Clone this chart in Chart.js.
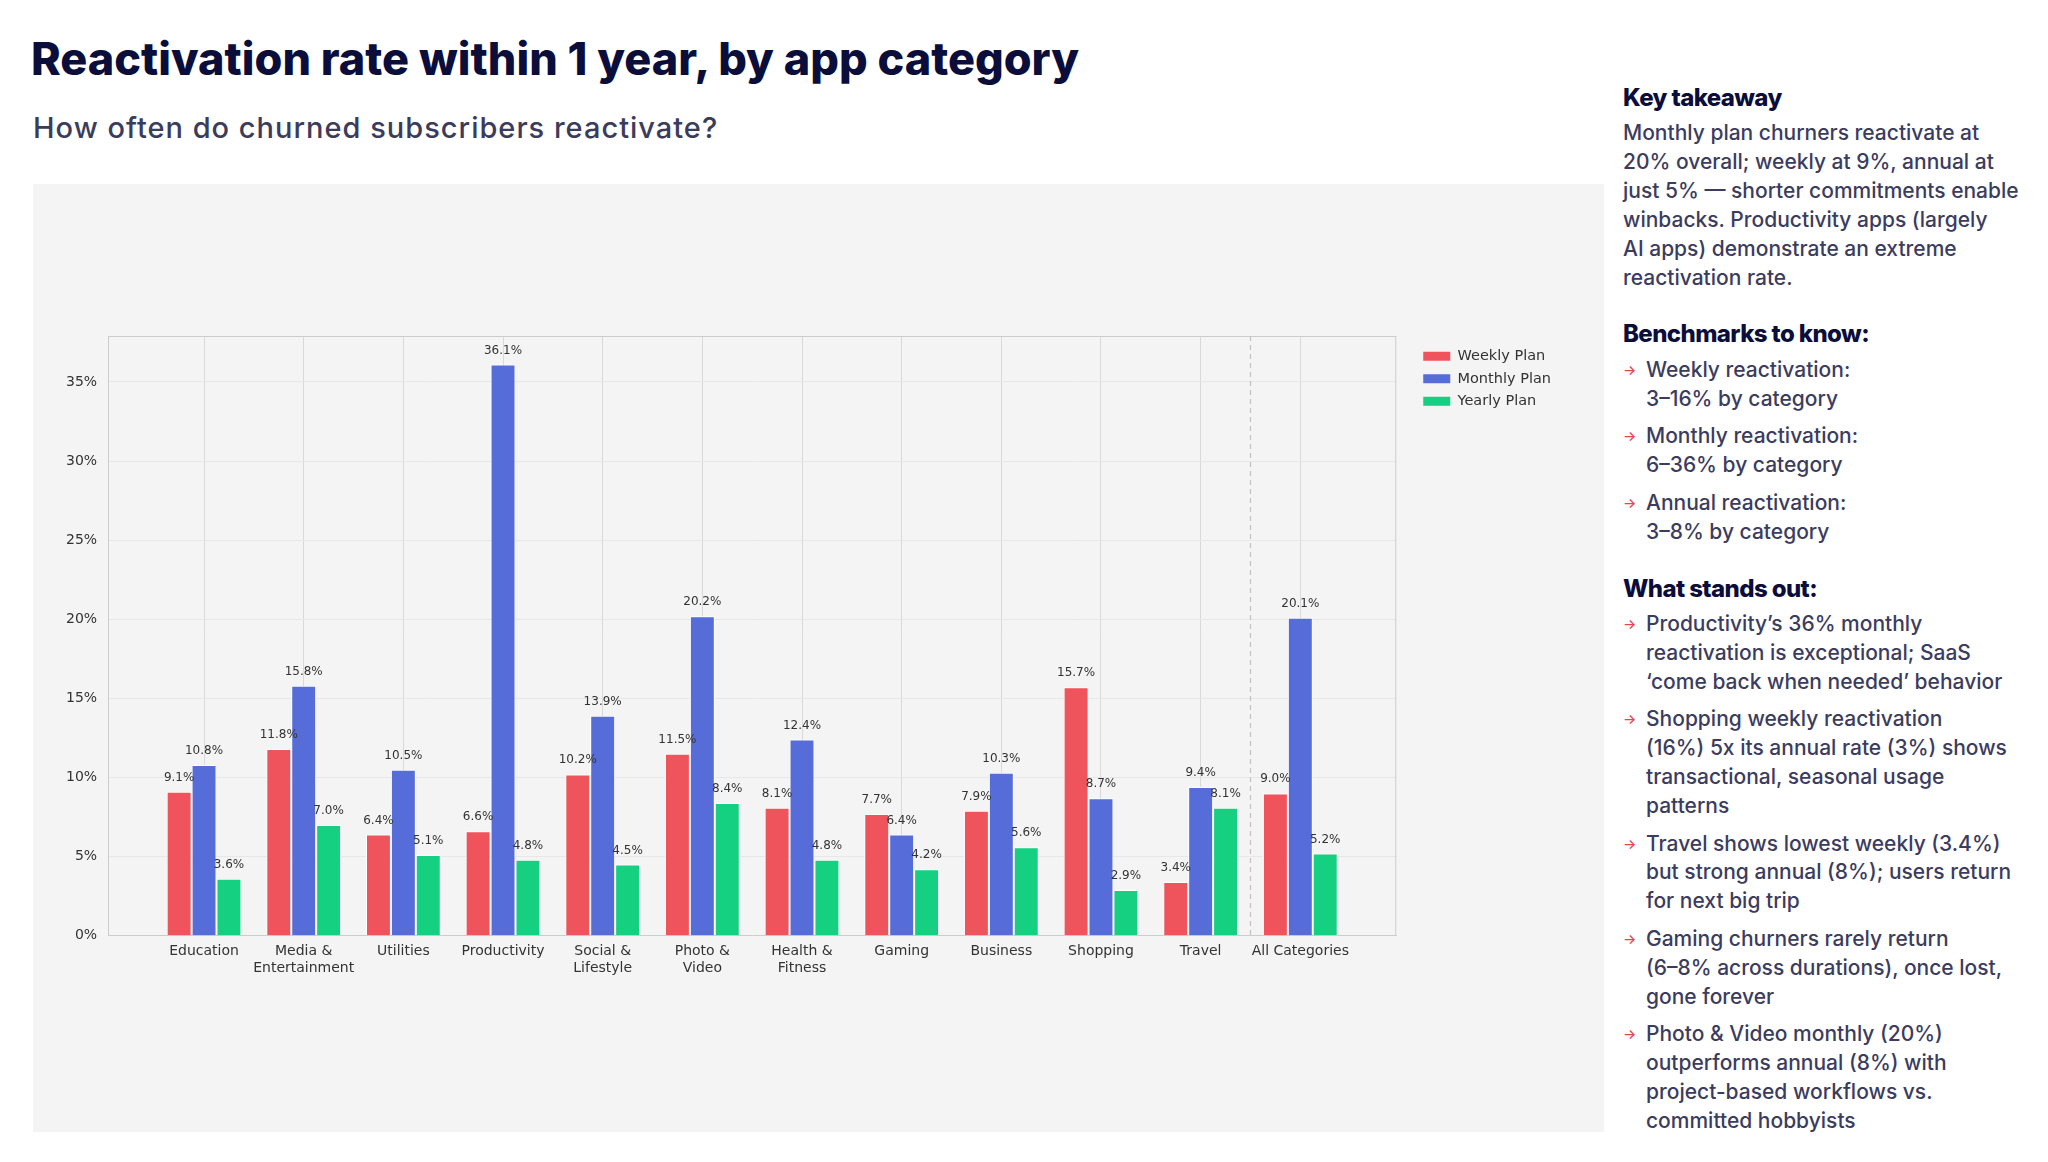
<!DOCTYPE html>
<html>
<head>
<meta charset="utf-8">
<script src="https://cdn.jsdelivr.net/npm/chart.js@4.4.1/dist/chart.umd.min.js"></script>
<style>
  html, body { margin: 0; padding: 0; background: #fff; }
  body { width: 2048px; height: 1162px; position: relative; overflow: hidden; font-family: Inter, "Noto Sans", sans-serif; }
  #title { position: absolute; left: 31px; top: 31px; font-size: 45px; font-weight: 800; letter-spacing: 0px; color: #0b0d3b; white-space: nowrap; line-height: 56px; }
  #subtitle { position: absolute; left: 33px; top: 110px; font-size: 29px; font-weight: 500; letter-spacing: 1px; color: #3b3c5c; line-height: 36px; white-space: nowrap; }
  #panel { position: absolute; left: 33px; top: 184px; width: 1571px; height: 948px; background: #f4f4f4; }
  #side { position: absolute; left: 1623px; top: 0; width: 420px; color: #3b3c5e; }
  .h { position: absolute; left: 0; font-size: 24px; font-weight: 800; color: #0b0d3b; letter-spacing: -0.6px; line-height: 32px; white-space: nowrap; }
  .body { position: absolute; left: 0; font-size: 21px; font-weight: 500; line-height: 28.9px; white-space: nowrap; }
  .list { position: absolute; left: 0; margin: 0; padding: 0; list-style: none; font-size: 21px; font-weight: 500; line-height: 28.9px; white-space: nowrap; }
  .list li { position: relative; padding-left: 23px; margin-bottom: 8.6px; }
  .list li::before { content: "\2192"; position: absolute; left: 0; top: 0; color: #e8424f; font-size: 14px; }
</style>
</head>
<body>
<div id="title">Reactivation rate within 1 year, by app category</div>
<div id="subtitle">How often do churned subscribers reactivate?</div>
<div id="panel"><canvas id="chart" width="1571" height="948"></canvas></div>

<div id="side">
  <div class="h" style="top:82px">Key takeaway</div>
  <div class="body" style="top:119px">Monthly plan churners reactivate at<br>20% overall; weekly at 9%, annual at<br>just 5% — shorter commitments enable<br>winbacks. Productivity apps (largely<br>AI apps) demonstrate an extreme<br>reactivation rate.</div>

  <div class="h" style="top:318px">Benchmarks to know:</div>
  <ul class="list" style="top:356px">
    <li>Weekly reactivation:<br>3–16% by category</li>
    <li>Monthly reactivation:<br>6–36% by category</li>
    <li>Annual reactivation:<br>3–8% by category</li>
  </ul>

  <div class="h" style="top:573px">What stands out:</div>
  <ul class="list" style="top:610px">
    <li>Productivity’s 36% monthly<br>reactivation is exceptional; SaaS<br>‘come back when needed’ behavior</li>
    <li>Shopping weekly reactivation<br>(16%) 5x its annual rate (3%) shows<br>transactional, seasonal usage<br>patterns</li>
    <li>Travel shows lowest weekly (3.4%)<br>but strong annual (8%); users return<br>for next big trip</li>
    <li>Gaming churners rarely return<br>(6–8% across durations), once lost,<br>gone forever</li>
    <li>Photo &amp; Video monthly (20%)<br>outperforms annual (8%) with<br>project-based workflows vs.<br>committed hobbyists</li>
  </ul>
</div>

<script>
const categories = [
  "Education", "Media & Entertainment", "Utilities", "Productivity",
  "Social & Lifestyle", "Photo & Video", "Health & Fitness", "Gaming",
  "Business", "Shopping", "Travel", "All Categories",
];
const categoryLines = [
  ["Education"], ["Media &", "Entertainment"], ["Utilities"], ["Productivity"],
  ["Social &", "Lifestyle"], ["Photo &", "Video"], ["Health &", "Fitness"], ["Gaming"],
  ["Business"], ["Shopping"], ["Travel"], ["All Categories"],
];
const weeklyPlan = [9.1, 11.8, 6.4, 6.6, 10.2, 11.5, 8.1, 7.7, 7.9, 15.7, 3.4, 9.0];
const monthlyPlan = [10.8, 15.8, 10.5, 36.1, 13.9, 20.2, 12.4, 6.4, 10.3, 8.7, 9.4, 20.1];
const yearlyPlan = [3.6, 7.0, 5.1, 4.8, 4.5, 8.4, 4.8, 4.2, 5.6, 2.9, 8.1, 5.2];
const yTicks = [0, 5, 10, 15, 20, 25, 30, 35];
const separatorAt = 10.5; // between Travel and All Categories

Chart.defaults.font.family = "'DejaVu Sans', sans-serif";
Chart.defaults.color = "#333";

function toPoints(values) {
  return values.map((v, i) => ({ x: i, y: v }));
}

// frame on top/right + dashed separator before "All Categories"
const plotFrame = {
  id: "plotFrame",
  beforeDatasetsDraw(chart) {
    const { ctx, chartArea: a, scales } = chart;
    ctx.save();
    ctx.strokeStyle = "#cccccc";
    ctx.lineWidth = 1;
    ctx.beginPath();
    ctx.moveTo(a.left, a.top + 0.5);
    ctx.lineTo(a.right, a.top + 0.5);
    ctx.moveTo(a.right - 0.5, a.top);
    ctx.lineTo(a.right - 0.5, a.bottom);
    ctx.stroke();
    const sx = scales.x.getPixelForValue(separatorAt);
    ctx.setLineDash([5, 4]);
    ctx.strokeStyle = "#c2c2c2";
    ctx.lineWidth = 1.2;
    ctx.beginPath();
    ctx.moveTo(sx, a.top);
    ctx.lineTo(sx, a.bottom);
    ctx.stroke();
    ctx.restore();
  },
};

const valueLabels = {
  id: "valueLabels",
  afterDatasetsDraw(chart) {
    const ctx = chart.ctx;
    ctx.save();
    ctx.font = "12px 'DejaVu Sans'";
    ctx.fillStyle = "#333";
    ctx.textAlign = "center";
    ctx.textBaseline = "alphabetic";
    chart.data.datasets.forEach((ds, di) => {
      chart.getDatasetMeta(di).data.forEach((bar, i) => {
        ctx.fillText(ds.data[i].y.toFixed(1) + "%", bar.x, bar.y - 11);
      });
    });
    ctx.restore();
  },
};

const barStyle = {
  borderColor: "#ffffff",
  borderWidth: 1,
  categoryPercentage: 0.75,
  barPercentage: 1,
};

new Chart(document.getElementById("chart"), {
  type: "bar",
  data: {
    datasets: [
      { label: "Weekly Plan", data: toPoints(weeklyPlan), backgroundColor: "#ef535b", ...barStyle },
      { label: "Monthly Plan", data: toPoints(monthlyPlan), backgroundColor: "#566cd8", ...barStyle },
      { label: "Yearly Plan", data: toPoints(yearlyPlan), backgroundColor: "#14d080", ...barStyle },
    ],
  },
  plugins: [plotFrame, valueLabels],
  options: {
    responsive: false,
    animation: false,
    layout: { padding: { left: 22, top: 152, right: 43, bottom: 148 } },
    plugins: {
      tooltip: { enabled: false },
      legend: {
        position: "right",
        align: "start",
        // empty title only nudges the entries down a little
        title: { display: true, text: "", font: { size: 1, lineHeight: 1 }, padding: { top: 0, bottom: 4 } },
        labels: {
          boxWidth: 27,
          boxHeight: 9,
          padding: 8,
          color: "#333",
          font: { size: 14.5 },
          generateLabels: (chart) =>
            Chart.defaults.plugins.legend.labels
              .generateLabels(chart)
              .map((item) => ({ ...item, lineWidth: 0 })),
        },
      },
    },
    scales: {
      x: {
        type: "linear",
        offset: false,
        min: -0.9625,
        max: 11.9625,
        afterBuildTicks: (axis) => {
          axis.ticks = categories.map((c, i) => ({ value: i }));
        },
        ticks: {
          autoSkip: false,
          maxRotation: 0,
          padding: 8,
          color: "#333",
          font: { size: 14, lineHeight: 1.15 },
          callback: (value) => categoryLines[value],
        },
        grid: { color: "#d9d9d9", drawTicks: false, offset: false },
        border: { color: "#cccccc" },
      },
      y: {
        min: 0,
        max: 37.905,
        afterBuildTicks: (axis) => {
          axis.ticks = yTicks.map((v) => ({ value: v }));
        },
        ticks: {
          padding: 11,
          color: "#333",
          font: { size: 14 },
          callback: (value) => value + "%",
        },
        grid: { color: "#e7e7e7", drawTicks: false },
        border: { color: "#cccccc" },
      },
      y2: {
        type: "linear",
        position: "right",
        grid: { display: false },
        ticks: { display: false },
        border: { display: false },
        afterFit: (scale) => {
          scale.width = 19;
        },
      },
    },
  },
});
</script>
</body>
</html>
